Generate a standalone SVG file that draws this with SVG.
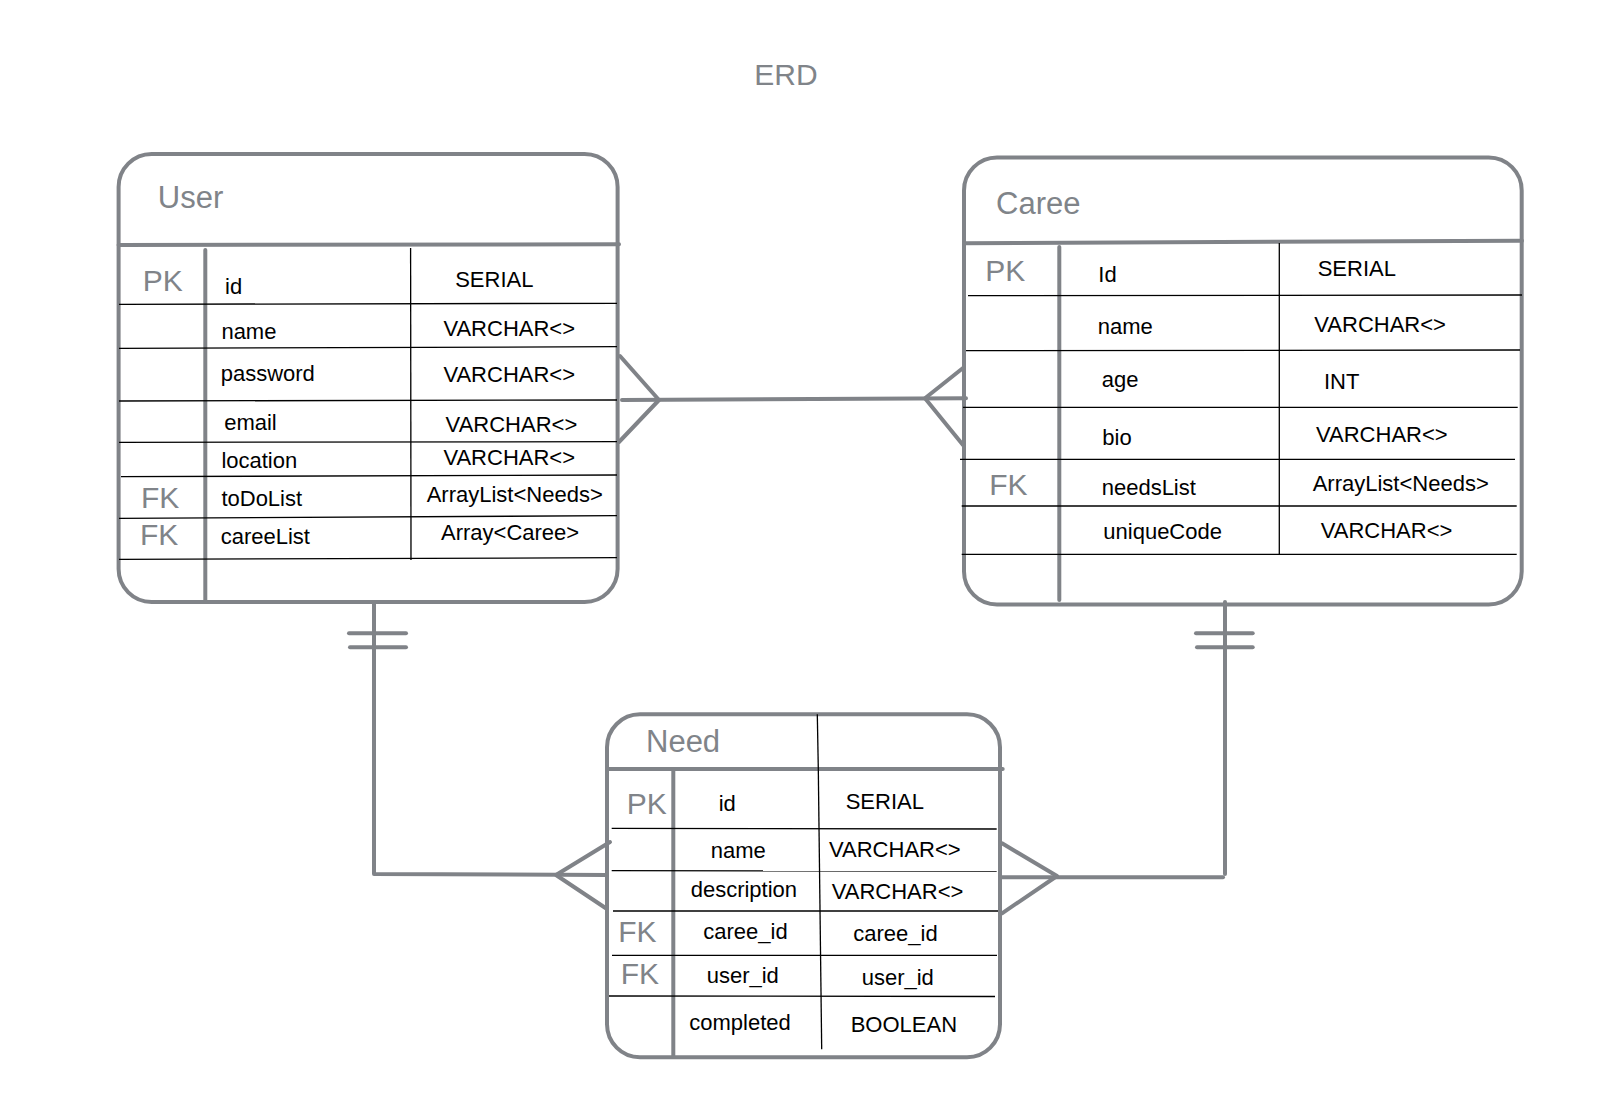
<svg xmlns="http://www.w3.org/2000/svg" width="1610" height="1102" viewBox="0 0 1610 1102">
<style>
.box{fill:none;stroke:#808388;stroke-width:4}
.g{stroke:#808388;stroke-width:4;fill:none;stroke-linecap:round;stroke-linejoin:round}
.row{stroke:#000;stroke-width:1.3;fill:none}
.t{font-family:"Liberation Sans",Arial,Helvetica,sans-serif;font-size:22px;fill:#000}
.h{font-family:"Liberation Sans",Arial,Helvetica,sans-serif;font-size:31px;fill:#808489}
.k{font-family:"Liberation Sans",Arial,Helvetica,sans-serif;font-size:30px;fill:#808489}
</style>
<rect width="1610" height="1102" fill="#fff"/>
<text class="h" x="786" y="85" text-anchor="middle" style="font-size:30px">ERD</text>

<g id="connectors">
  <!-- User - Caree -->
  <polyline class="g" points="620,356 659,400 619,442"/>
  <line class="g" x1="622" y1="400" x2="966" y2="398.3"/>
  <polyline class="g" points="963,368 925,398.3 963,445"/>
  <!-- User - Need -->
  <polyline class="g" points="374,602 374,874 607,875"/>
  <line class="g" x1="349" y1="633.3" x2="406" y2="633.3"/>
  <line class="g" x1="350" y1="647.3" x2="406" y2="647.3"/>
  <polyline class="g" points="610,842 556,875 607,909"/>
  <!-- Caree - Need -->
  <polyline class="g" points="1225,602 1225,874"/>
  <line class="g" x1="1002" y1="877.3" x2="1223" y2="877.3"/>
  <line class="g" x1="1196" y1="633.3" x2="1252.7" y2="633.3"/>
  <line class="g" x1="1197" y1="647.3" x2="1252.7" y2="647.3"/>
  <polyline class="g" points="1002,843.3 1057,876 1002,913.3"/>
</g>

<g id="user">
  <rect class="box" x="118.6" y="154" width="499" height="448" rx="33"/>
  <line class="g" x1="118.6" y1="245" x2="619" y2="244.3"/>
  <line class="g" x1="205.3" y1="250" x2="205.3" y2="602"/>
  <line class="row" x1="410.6" y1="248" x2="411" y2="560"/>
  <line class="row" x1="119" y1="304.3" x2="617" y2="303.3"/>
  <line class="row" x1="119" y1="348.3" x2="617" y2="346.7"/>
  <line class="row" x1="119" y1="401" x2="617" y2="400"/>
  <line class="row" x1="119" y1="442.3" x2="617" y2="441.7"/>
  <line class="row" x1="121" y1="476.7" x2="617" y2="475"/>
  <line class="row" x1="119" y1="518.3" x2="617" y2="515.7"/>
  <line class="row" x1="119" y1="559.3" x2="617" y2="557.7"/>
  <text class="h" x="157.8" y="208.3">User</text>
  <text class="k" x="142.8" y="290.7">PK</text>
  <text class="k" x="141" y="508.3">FK</text>
  <text class="k" x="140" y="545">FK</text>
  <text class="t" x="225" y="294">id</text>
  <text class="t" x="221.4" y="339">name</text>
  <text class="t" x="220.7" y="380.7">password</text>
  <text class="t" x="224.2" y="430">email</text>
  <text class="t" x="221.4" y="468.3">location</text>
  <text class="t" x="221.4" y="505.7">toDoList</text>
  <text class="t" x="220.7" y="544">careeList</text>
  <text class="t" x="455.2" y="286.7">SERIAL</text>
  <text class="t" x="443.4" y="336">VARCHAR&lt;&gt;</text>
  <text class="t" x="443.4" y="382.3">VARCHAR&lt;&gt;</text>
  <text class="t" x="445.6" y="432.3">VARCHAR&lt;&gt;</text>
  <text class="t" x="443.4" y="465">VARCHAR&lt;&gt;</text>
  <text class="t" x="426.7" y="501.7">ArrayList&lt;Needs&gt;</text>
  <text class="t" x="441" y="540">Array&lt;Caree&gt;</text>
</g>

<g id="caree">
  <rect class="box" x="964" y="157.5" width="557.7" height="447" rx="33"/>
  <line class="g" x1="964" y1="243.3" x2="1522" y2="240.7"/>
  <line class="g" x1="1059.3" y1="247" x2="1059.3" y2="600"/>
  <line class="row" x1="1279.3" y1="243" x2="1279.3" y2="555"/>
  <line class="row" x1="968" y1="295.7" x2="1522" y2="295"/>
  <line class="row" x1="966" y1="350.7" x2="1520" y2="350"/>
  <line class="row" x1="963" y1="407.3" x2="1517.7" y2="407.3"/>
  <line class="row" x1="960" y1="459.3" x2="1515" y2="459.3"/>
  <line class="row" x1="961.7" y1="506" x2="1516.7" y2="506"/>
  <line class="row" x1="961.7" y1="554.3" x2="1516.7" y2="554.3"/>
  <text class="h" x="996" y="214">Caree</text>
  <text class="k" x="985.3" y="280.7">PK</text>
  <text class="k" x="989.3" y="495">FK</text>
  <text class="t" x="1098.3" y="282.3">Id</text>
  <text class="t" x="1097.7" y="334.3">name</text>
  <text class="t" x="1101.7" y="386.7">age</text>
  <text class="t" x="1102.3" y="445">bio</text>
  <text class="t" x="1101.7" y="495">needsList</text>
  <text class="t" x="1103.3" y="539.3">uniqueCode</text>
  <text class="t" x="1317.7" y="276">SERIAL</text>
  <text class="t" x="1314.3" y="331.7">VARCHAR&lt;&gt;</text>
  <text class="t" x="1324" y="389.3">INT</text>
  <text class="t" x="1316" y="442.3">VARCHAR&lt;&gt;</text>
  <text class="t" x="1312.7" y="490.7">ArrayList&lt;Needs&gt;</text>
  <text class="t" x="1320.7" y="538.3">VARCHAR&lt;&gt;</text>
</g>

<g id="need">
  <rect class="box" x="607" y="714.3" width="393" height="343" rx="33"/>
  <line class="g" x1="607" y1="769" x2="1002.7" y2="769"/>
  <line class="g" x1="673.3" y1="769" x2="673.3" y2="1057"/>
  <line class="row" x1="817.3" y1="714.3" x2="818.3" y2="769"/>
  <line class="row" x1="818.3" y1="769" x2="821.7" y2="1049.3"/>
  <line class="row" x1="611.7" y1="828.3" x2="996.7" y2="829"/>
  <line class="row" x1="611.7" y1="870.7" x2="996.7" y2="871"/>
  <line class="row" x1="613" y1="911" x2="998" y2="911"/>
  <line class="row" x1="612" y1="955.3" x2="997" y2="955.3"/>
  <line class="row" x1="609" y1="996" x2="995" y2="996.5"/>
  <text class="h" x="646" y="752.3">Need</text>
  <text class="k" x="626.7" y="814.3">PK</text>
  <text class="k" x="618.3" y="942.3">FK</text>
  <text class="k" x="620.7" y="984">FK</text>
  <text class="t" x="718.7" y="810.7">id</text>
  <text class="t" x="710.7" y="858.3">name</text>
  <text class="t" x="690.7" y="897.3">description</text>
  <text class="t" x="703.3" y="939.3">caree_id</text>
  <text class="t" x="706.7" y="982.7">user_id</text>
  <text class="t" x="689.3" y="1030">completed</text>
  <text class="t" x="845.7" y="809.3">SERIAL</text>
  <text class="t" x="829" y="856.7">VARCHAR&lt;&gt;</text>
  <text class="t" x="831.7" y="899.3">VARCHAR&lt;&gt;</text>
  <text class="t" x="853.3" y="941">caree_id</text>
  <text class="t" x="861.7" y="985">user_id</text>
  <text class="t" x="850.7" y="1031.7">BOOLEAN</text>
</g>
</svg>
